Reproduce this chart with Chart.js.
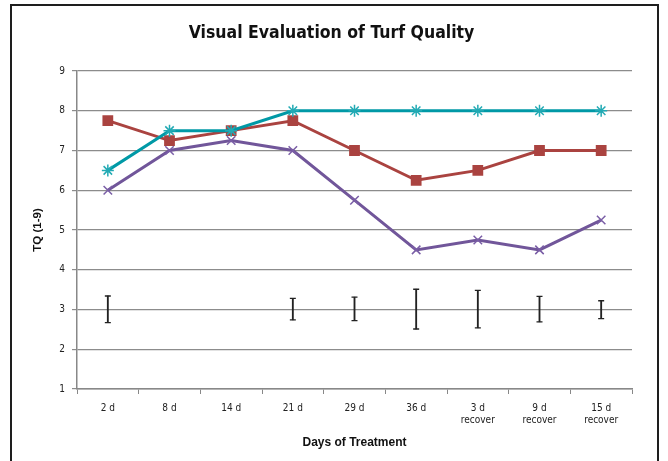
<!DOCTYPE html>
<html>
<head>
<meta charset="utf-8">
<script src="https://cdn.jsdelivr.net/npm/chart.js@4.4.1/dist/chart.umd.min.js"></script>
<style>
  html, body { margin: 0; padding: 0; background: #fff; overflow: hidden; }
  #wrap { position: relative; width: 668px; height: 461px; }
  #frame { position: absolute; left: 10px; top: 4px; width: 649px; height: 480px; border: 2px solid #1e1e1e; box-sizing: border-box; pointer-events: none; }
</style>
</head>
<body>
<div id="wrap">
  <canvas id="chart" width="668" height="461"></canvas>
  <div id="frame"></div>
</div>
<script>
// days of treatment
const days = ['2 d', '8 d', '14 d', '21 d', '29 d', '36 d', ['3 d', 'recover'], ['9 d', 'recover'], ['15 d', 'recover']];

// turf quality ratings (1-9)
const tealSeries = [6.5, 7.5, 7.5, 8, 8, 8, 8, 8, 8];
const redSeries = [7.75, 7.25, 7.5, 7.75, 7, 6.25, 6.5, 7, 7];
const purpleSeries = [6, 7, 7.25, 7, 5.75, 4.5, 4.75, 4.5, 5.25];

// error bars drawn around 3 (LSD-style bars), null = none
const errLow = [2.67, null, null, 2.74, 2.72, 2.51, 2.54, 2.69, 2.77];
const errHigh = [3.34, null, null, 3.28, 3.31, 3.51, 3.48, 3.33, 3.22];

const yTicks = [1, 2, 3, 4, 5, 6, 7, 8, 9];

const narrow = "'Liberation Sans Narrow', 'DejaVu Sans Condensed', Arial, sans-serif";

const errRange = errLow.map((lo, i) => lo === null ? null : [lo, errHigh[i]]);

new Chart(document.getElementById('chart'), {
    data: {
        labels: days,
        datasets: [
            {
                type: 'bar',
                data: errRange,
                backgroundColor: '#222',
                borderWidth: 0,
                barThickness: 1.2,
                order: 5
            },
            {
                type: 'line',
                data: errHigh,
                showLine: false,
                pointStyle: 'line',
                pointRadius: 3,
                pointBorderColor: '#222',
                pointBorderWidth: 1.3,
                order: 4
            },
            {
                type: 'line',
                data: errLow,
                showLine: false,
                pointStyle: 'line',
                pointRadius: 3,
                pointBorderColor: '#222',
                pointBorderWidth: 1.3,
                order: 4
            },
            {
                type: 'line',
                data: purpleSeries,
                borderColor: '#71569a',
                borderWidth: 3,
                pointStyle: 'crossRot',
                pointRadius: 6,
                pointBorderColor: '#7a5ea6',
                pointBorderWidth: 1.5,
                tension: 0,
                order: 3
            },
            {
                type: 'line',
                data: redSeries,
                borderColor: '#aa4340',
                backgroundColor: '#aa4340',
                borderWidth: 3,
                pointStyle: 'rect',
                pointRadius: 5.5,
                pointBorderColor: '#aa4340',
                pointBackgroundColor: '#aa4340',
                tension: 0,
                order: 2
            },
            {
                type: 'line',
                data: tealSeries,
                borderColor: '#0099a6',
                borderWidth: 3,
                pointStyle: 'star',
                pointRadius: 6,
                pointBorderColor: '#22aab4',
                pointBorderWidth: 1.5,
                tension: 0,
                order: 1
            }
        ]
    },
    options: {
        responsive: false,
        animation: false,
        layout: { padding: { left: 31, right: 36, top: 0, bottom: 0 } },
        plugins: {
            legend: { display: false },
            tooltip: { enabled: false },
            title: {
                display: true,
                text: 'Visual Evaluation of Turf Quality',
                color: '#111',
                font: { family: narrow, size: 17.5, weight: 'bold' },
                padding: { top: 23, bottom: 27 }
            }
        },
        scales: {
            x: {
                offset: true,
                grid: { offset: true, drawOnChartArea: false, drawTicks: true, tickLength: 5, color: '#888' },
                border: { color: '#888', width: 1.5 },
                ticks: { color: '#222', font: { family: narrow, size: 10, lineHeight: 1.15 }, padding: 9, maxRotation: 0 },
                title: { display: true, text: 'Days of Treatment', color: '#111', font: { family: 'Arial, Liberation Sans, sans-serif', size: 12, weight: 'bold' }, padding: { top: 6, bottom: 11 } },
                afterFit: s => { s.height = 72; }
            },
            y: {
                min: 1,
                max: 9,
                afterBuildTicks: s => { s.ticks = yTicks.map(v => ({ value: v })); },
                grid: { color: '#8c8c8c', lineWidth: 1.2, tickLength: 5 },
                border: { color: '#888', width: 1.5 },
                ticks: { color: '#222', font: { family: narrow, size: 10 }, padding: 7 },
                title: { display: true, text: 'TQ (1-9)', color: '#111', font: { family: 'Arial, Liberation Sans, sans-serif', size: 11.5, weight: 'bold' }, padding: 0 },
                afterFit: s => { s.width = 46; }
            }
        }
    }
});
</script>
</body>
</html>
